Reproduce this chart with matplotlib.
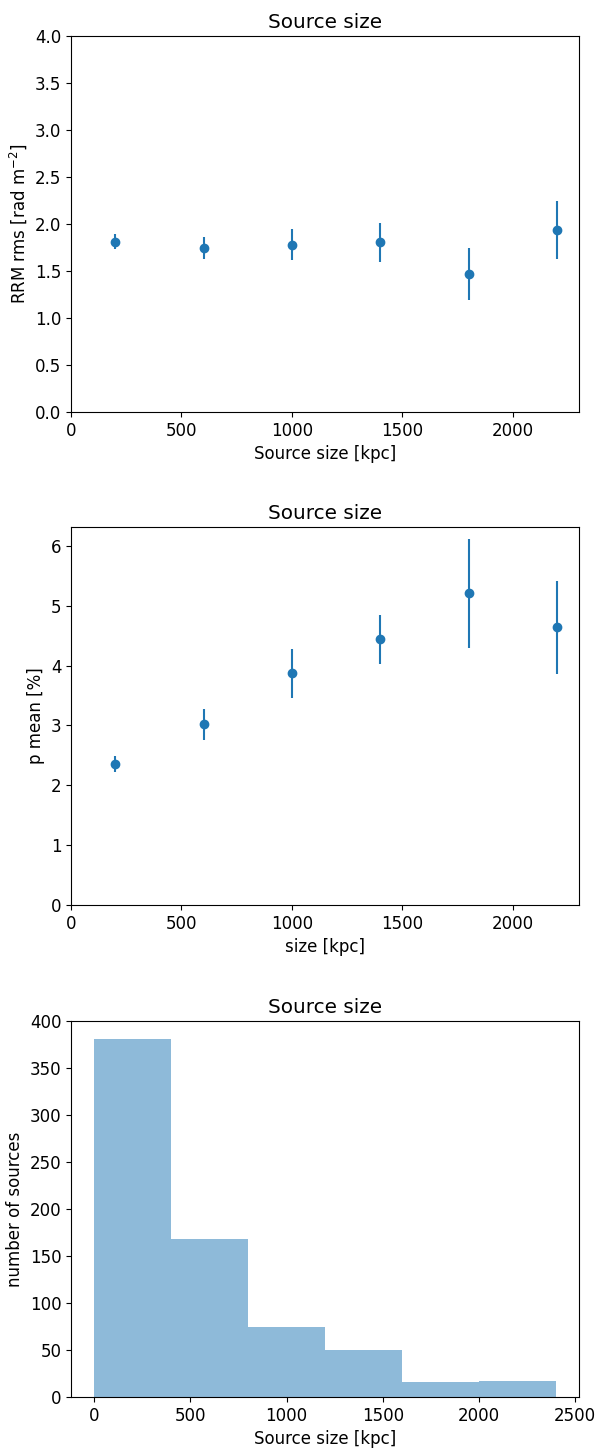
import matplotlib
matplotlib.use("Agg")
import matplotlib.pyplot as plt
import numpy as np

plt.rcParams["font.size"] = 12

# Binned source size (kpc), bin centres
size_centres = [200, 600, 1000, 1400, 1800, 2200]

# RRM rms per bin and its uncertainty
rrm_rms = [1.81, 1.745, 1.78, 1.805, 1.47, 1.94]
rrm_err = [0.08, 0.115, 0.165, 0.205, 0.28, 0.31]

# Mean fractional polarisation per bin and its uncertainty
p_mean = [2.36, 3.02, 3.87, 4.44, 5.21, 4.64]
p_err = [0.13, 0.26, 0.41, 0.41, 0.91, 0.78]

# Histogram of source sizes
bin_edges = [0, 400, 800, 1200, 1600, 2000, 2400]
counts = [381, 168, 75, 50, 16, 17]

W, H = 598, 1448
DPI = 100
fig = plt.figure(figsize=(W / DPI, H / DPI), dpi=DPI)

left = 71 / W
width = 508 / W

def axes_at(top_px, bottom_px):
    return fig.add_axes([left, 1 - bottom_px / H, width, (bottom_px - top_px) / H])

# Panel 1: RRM rms vs source size
ax1 = axes_at(36, 412)
ax1.errorbar(size_centres, rrm_rms, yerr=rrm_err, fmt="o", color="tab:blue")
ax1.set_ylim(0, 4)
ax1.set_xlim(0, 2300)
ax1.set_xlabel("Source size [kpc]")
ax1.set_ylabel(r"RRM rms [rad m$^{-2}$]")
ax1.set_title("Source size")

# Panel 2: mean polarisation vs size
ax2 = axes_at(527, 905)
ax2.errorbar(size_centres, p_mean, yerr=p_err, fmt="o", color="tab:blue")
ax2.set_ylim(bottom=0)
ax2.set_xlim(0, 2300)
ax2.set_xlabel("size [kpc]")
ax2.set_ylabel("p mean [%]")
ax2.set_title("Source size")

# Panel 3: number of sources per size bin
ax3 = axes_at(1021, 1397)
ax3.hist(bin_edges[:-1], bins=bin_edges, weights=counts, color="tab:blue", alpha=0.5)
ax3.set_ylim(0, 400)
ax3.set_xlabel("Source size [kpc]")
ax3.set_ylabel("number of sources")
ax3.set_title("Source size")

fig.savefig("out.png", dpi=DPI)
